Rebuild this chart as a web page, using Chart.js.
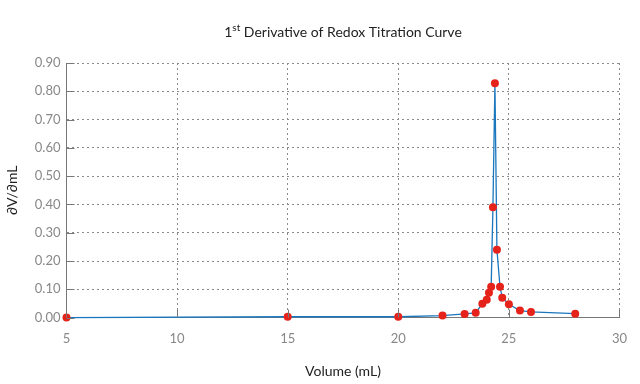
<!DOCTYPE html>
<html>
<head>
<meta charset="utf-8">
<script src="https://cdn.jsdelivr.net/npm/chart.js@4"></script>
<style>
  html, body { margin: 0; padding: 0; background: #fff; }
  #wrap { width: 640px; height: 384px; }
</style>
</head>
<body>
<div id="wrap"><canvas id="chart"></canvas></div>
<script>
const volume = [5, 15, 20, 22, 23, 23.5, 23.8, 24.0, 24.1, 24.2, 24.28, 24.37, 24.46, 24.6, 24.7, 25.0, 25.5, 26.0, 28];
const derivative = [0.0, 0.003, 0.003, 0.007, 0.013, 0.017, 0.049, 0.063, 0.088, 0.109, 0.39, 0.828, 0.24, 0.109, 0.07, 0.047, 0.025, 0.02, 0.014];
const xTicks = [5, 10, 15, 20, 25, 30];

const FONT = "Lato, 'Noto Sans', sans-serif";

// inward tick marks on the two axes
const innerTicks = {
  id: 'innerTicks',
  afterDatasetsDraw(chart) {
    const { ctx, chartArea, scales } = chart;
    ctx.save();
    ctx.strokeStyle = '#777';
    ctx.lineWidth = 1;
    scales.x.ticks.forEach((t, i) => {
      const px = Math.round(scales.x.getPixelForTick(i)) + 0.5;
      ctx.beginPath();
      ctx.moveTo(px, chartArea.bottom);
      ctx.lineTo(px, chartArea.bottom - 8);
      ctx.stroke();
    });
    scales.y.ticks.forEach((t, i) => {
      const py = Math.round(scales.y.getPixelForTick(i)) + 0.5;
      ctx.beginPath();
      ctx.moveTo(chartArea.left, py);
      ctx.lineTo(chartArea.left + 8, py);
      ctx.stroke();
    });
    ctx.restore();
  }
};

// title with superscript "st"
const supTitle = {
  id: 'supTitle',
  afterDraw(chart) {
    const { ctx } = chart;
    const main = '1';
    const sup = 'st';
    const rest = ' Derivative of Redox Titration Curve';
    ctx.save();
    ctx.fillStyle = '#222';
    ctx.textBaseline = 'alphabetic';
    ctx.font = `14px ${FONT}`;
    const w1 = ctx.measureText(main).width;
    const w3 = ctx.measureText(rest).width;
    ctx.font = `10px ${FONT}`;
    const w2 = ctx.measureText(sup).width;
    const total = w1 + w2 + w3;
    let x = 343 - total / 2;
    const y = 37;
    ctx.font = `14px ${FONT}`;
    ctx.fillText(main, x, y);
    x += w1;
    ctx.font = `10px ${FONT}`;
    ctx.fillText(sup, x, y - 6);
    x += w2;
    ctx.font = `14px ${FONT}`;
    ctx.fillText(rest, x, y);
    ctx.restore();
  }
};

new Chart(document.getElementById('chart'), {
  type: 'line',
  data: {
    datasets: [{
      data: volume.map((v, i) => ({ x: v, y: derivative[i] })),
      borderColor: '#1b77bd',
      borderWidth: 1.3,
      pointBackgroundColor: '#e5231b',
      pointBorderWidth: 0,
      pointRadius: 4,
      tension: 0,
      fill: false,
      clip: false
    }]
  },
  options: {
    responsive: true,
    maintainAspectRatio: false,
    animation: false,
    layout: { padding: { top: 63, right: 14, left: 0, bottom: 0 } },
    plugins: {
      legend: { display: false },
      tooltip: { enabled: false }
    },
    scales: {
      x: {
        type: 'linear',
        min: 5,
        max: 30,
        afterBuildTicks(scale) { scale.ticks = xTicks.map(v => ({ value: v })); },
        grid: { color: '#8a8a8a', lineWidth: 1, drawTicks: false },
        border: { display: true, color: '#777', width: 1, dash: [2, 3] },
        ticks: { color: '#888', padding: 13, font: { family: FONT, size: 13 } },
        title: { display: true, text: 'Volume (mL)', color: '#222', padding: { top: 4, bottom: 4 }, font: { family: FONT, size: 14 } }
      },
      y: {
        min: 0,
        max: 0.9,
        ticks: {
          stepSize: 0.1,
          color: '#888',
          padding: 6,
          font: { family: FONT, size: 13 },
          callback: v => v.toFixed(2)
        },
        grid: { color: '#8a8a8a', lineWidth: 1, drawTicks: false },
        border: { display: true, color: '#777', width: 1, dash: [2, 3] },
        title: { display: true, text: '∂V/∂mL', color: '#222', padding: { bottom: 8 }, font: { family: FONT, size: 14 } }
      }
    }
  },
  plugins: [innerTicks, supTitle]
});
</script>
</body>
</html>
